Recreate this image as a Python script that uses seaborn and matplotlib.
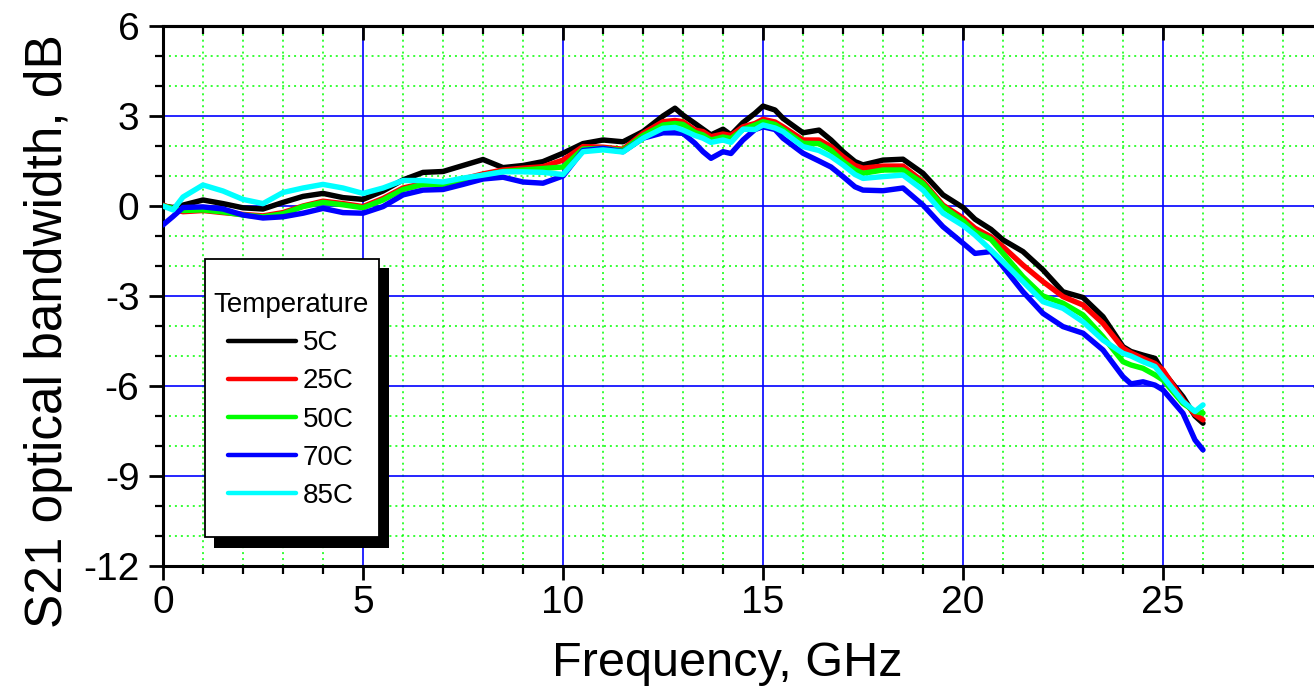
import numpy as np
import pandas as pd
import matplotlib
matplotlib.use("Agg")
import matplotlib.pyplot as plt
from matplotlib.ticker import MultipleLocator
from matplotlib.patches import Rectangle
import seaborn as sns

# ---------------- data ----------------
freq = [0, 0.25, 0.5, 1, 1.5, 2, 2.5, 3, 3.5, 4, 4.5, 5, 5.5, 6, 6.5, 7, 7.5, 8, 8.5, 9,
        9.5, 10, 10.5, 11, 11.5, 12, 12.5, 12.8, 13, 13.3, 13.5, 13.7, 14, 14.2, 14.5,
        14.8, 15, 15.3, 15.5, 16, 16.4, 16.7, 17, 17.3, 17.5, 18, 18.5, 19, 19.5, 20,
        20.3, 20.7, 21, 21.5, 22, 22.5, 23, 23.5, 24, 24.2, 24.5, 24.8, 25, 25.5, 25.8, 26]

s21_5C = [0.0, -0.05, 0.03, 0.2, 0.08, -0.06, -0.1, 0.12, 0.32, 0.42, 0.28, 0.22, 0.5, 0.87,
          1.12, 1.15, 1.35, 1.55, 1.28, 1.35, 1.48, 1.76, 2.08, 2.2, 2.14, 2.48, 3.0, 3.26,
          3.03, 2.75, 2.56, 2.37, 2.56, 2.37, 2.78, 3.09, 3.33, 3.2, 2.92, 2.44, 2.53, 2.2,
          1.81, 1.48, 1.37, 1.53, 1.56, 1.09, 0.37, -0.05, -0.44, -0.78, -1.13, -1.52, -2.13,
          -2.86, -3.05, -3.69, -4.69, -4.85, -4.97, -5.08, -5.52, -6.36, -7.0, -7.24]

s21_25C = [0.03, -0.1, -0.19, -0.15, -0.22, -0.28, -0.33, -0.22, 0.0, 0.16, 0.08, -0.02, 0.25,
           0.6, 0.75, 0.75, 0.9, 1.07, 1.2, 1.26, 1.31, 1.53, 1.98, 1.96, 1.89, 2.42, 2.81,
           2.85, 2.81, 2.53, 2.48, 2.31, 2.4, 2.35, 2.64, 2.75, 2.89, 2.8, 2.64, 2.2, 2.2,
           1.98, 1.64, 1.35, 1.26, 1.33, 1.33, 0.81, 0.03, -0.4, -0.74, -1.03, -1.36, -1.97,
           -2.52, -3.02, -3.3, -3.91, -4.74, -4.9, -5.08, -5.25, -5.47, -6.47, -6.95, -7.13]

s21_50C = [0.0, -0.08, -0.15, -0.13, -0.2, -0.3, -0.36, -0.26, -0.02, 0.12, 0.04, -0.06, 0.2,
           0.55, 0.72, 0.72, 0.88, 1.02, 1.15, 1.2, 1.25, 1.3, 1.9, 1.92, 1.85, 2.35, 2.7,
           2.75, 2.72, 2.45, 2.37, 2.2, 2.3, 2.25, 2.55, 2.7, 2.81, 2.72, 2.55, 2.09, 2.08,
           1.85, 1.48, 1.2, 1.09, 1.2, 1.2, 0.75, -0.02, -0.5, -0.86, -1.11, -1.58, -2.36,
           -3.0, -3.24, -3.63, -4.36, -5.19, -5.3, -5.41, -5.63, -5.8, -6.58, -6.85, -6.9]

s21_70C = [-0.63, -0.35, -0.05, -0.03, -0.1, -0.3, -0.4, -0.36, -0.24, -0.08, -0.22, -0.24,
           -0.02, 0.37, 0.53, 0.55, 0.72, 0.9, 0.96, 0.8, 0.76, 1.0, 1.85, 1.92, 1.81, 2.26,
           2.44, 2.44, 2.42, 2.09, 1.81, 1.59, 1.81, 1.75, 2.2, 2.55, 2.64, 2.55, 2.26, 1.76,
           1.5, 1.3, 0.98, 0.64, 0.53, 0.51, 0.6, 0.03, -0.69, -1.24, -1.58, -1.52, -2.02,
           -2.86, -3.58, -4.02, -4.24, -4.8, -5.69, -5.93, -5.86, -5.97, -6.13, -6.91, -7.8,
           -8.13]

s21_85C = [0.0, -0.13, 0.3, 0.7, 0.5, 0.22, 0.08, 0.45, 0.6, 0.72, 0.6, 0.42, 0.6, 0.85,
           0.85, 0.8, 0.93, 1.03, 1.14, 1.14, 1.12, 1.05, 1.81, 1.87, 1.8, 2.26, 2.59, 2.62,
           2.53, 2.35, 2.26, 2.12, 2.2, 2.12, 2.56, 2.55, 2.7, 2.6, 2.48, 1.98, 1.85, 1.65,
           1.37, 1.05, 0.92, 0.98, 1.03, 0.53, -0.24, -0.65, -0.97, -1.47, -1.86, -2.52,
           -3.19, -3.41, -3.86, -4.47, -4.91, -5.0, -5.19, -5.35, -5.69, -6.52, -6.85, -6.63]

temperatures = ["5C", "25C", "50C", "70C", "85C"]
line_colors = ["#000000", "#ff0000", "#00ff00", "#0000ff", "#00ffff"]
x_label = "Frequency, GHz"
y_label = "S21 optical bandwidth, dB"
legend_title = "Temperature"

series = [s21_5C, s21_25C, s21_50C, s21_70C, s21_85C]
df = pd.concat(
    [pd.DataFrame({"freq": freq, "s21": vals, "Temperature": t})
     for t, vals in zip(temperatures, series)],
    ignore_index=True,
)

# ---------------- style ----------------
sns.set_style("white")
plt.rcParams["font.family"] = ["Liberation Sans", "DejaVu Sans"]
plt.rcParams["axes.unicode_minus"] = False
plt.rcParams["text.color"] = "black"
plt.rcParams["axes.labelcolor"] = "black"
plt.rcParams["xtick.color"] = "black"
plt.rcParams["ytick.color"] = "black"

W, H = 1314, 697
fig = plt.figure(figsize=(W / 100, H / 100), dpi=100)
ax_left, ax_right, ax_top, ax_bottom = 163, 163 + 29.1 * 40, 26, 566
ax = fig.add_axes([ax_left / W, (H - ax_bottom) / H,
                   (ax_right - ax_left) / W, (ax_bottom - ax_top) / H])

sns.lineplot(data=df, x="freq", y="s21", hue="Temperature", hue_order=temperatures,
             palette=line_colors, linewidth=3.9, estimator=None, sort=False,
             legend=False, ax=ax, zorder=3)
for ln in ax.lines:
    ln.set_solid_joinstyle("round")
    ln.set_solid_capstyle("round")

ax.set_xlim(0, 29.1)
ax.set_ylim(-12, 6)
ax.xaxis.set_major_locator(MultipleLocator(5))
ax.xaxis.set_minor_locator(MultipleLocator(1))
ax.yaxis.set_major_locator(MultipleLocator(3))
ax.yaxis.set_minor_locator(MultipleLocator(1))

# grids
ax.grid(which="minor", color="#00ff00", linestyle=(0, (1.3, 2.6)), linewidth=1.1, zorder=0)
ax.grid(which="major", color="#0000ff", linestyle="-", linewidth=1.2, zorder=1)
ax.set_axisbelow(True)

for side in ["left", "bottom", "top", "right"]:
    ax.spines[side].set_visible(True)
    ax.spines[side].set_color("black")
    ax.spines[side].set_linewidth(2.2)

ax.tick_params(axis="both", which="both", bottom=True, left=True, top=False, right=False)
ax.tick_params(axis="both", which="major", direction="out", length=10, width=2.0,
               labelsize=28, color="black", labelcolor="black")
ax.tick_params(axis="both", which="minor", direction="out", length=5.5, width=1.6,
               color="black")
ax.tick_params(axis="x", which="major", pad=4)
ax.tick_params(axis="y", which="major", pad=7)

# inward ticks on top and right
secx = ax.secondary_xaxis("top")
secx.xaxis.set_major_locator(MultipleLocator(5))
secx.xaxis.set_minor_locator(MultipleLocator(1))
secx.tick_params(which="both", top=True, color="black")
secx.tick_params(which="major", direction="in", length=10, width=2.0, labeltop=False)
secx.tick_params(which="minor", direction="in", length=5.5, width=1.6)
secx.spines["top"].set_linewidth(2.2)
secx.spines["top"].set_color("black")
secx.set_zorder(4)
secy = ax.secondary_yaxis("right")
secy.yaxis.set_major_locator(MultipleLocator(3))
secy.yaxis.set_minor_locator(MultipleLocator(1))
secy.tick_params(which="both", right=True, color="black")
secy.tick_params(which="major", direction="in", length=10, width=2.0, labelright=False)
secy.tick_params(which="minor", direction="in", length=5.5, width=1.6)

ax.set_xlabel(x_label, fontsize=35, color="black")
ax.set_ylabel(y_label, fontsize=37, color="black")
axw, axh = ax_right - ax_left, ax_bottom - ax_top
ax.xaxis.set_label_coords((727.5 - ax_left) / axw, (ax_bottom - 641) / axh)
ax.yaxis.set_label_coords((73 - ax_left) / axw, (ax_bottom - 331) / axh)

# legend box with hard shadow
shadow = Rectangle(((214 - ax_left) / axw, (ax_bottom - 548) / axh), 175 / axw, 280 / axh,
                   transform=ax.transAxes, facecolor="black", edgecolor="black",
                   linewidth=0, zorder=5, clip_on=False)
box = Rectangle(((205 - ax_left) / axw, (ax_bottom - 537) / axh), 174 / axw, 278 / axh,
                transform=ax.transAxes, facecolor="white", edgecolor="black",
                linewidth=1.3, zorder=5.1, clip_on=False)
ax.add_patch(shadow)
ax.add_patch(box)

handles = ax.lines[:len(temperatures)]
leg = ax.legend(handles, temperatures, title=legend_title, loc="upper left",
                bbox_to_anchor=((213 - ax_left) / axw, (ax_bottom - 292) / axh),
                frameon=False, fontsize=20, title_fontsize=20, borderpad=0,
                borderaxespad=0, handlelength=2.45, handletextpad=0.25,
                labelspacing=0.44)
leg.set_zorder(6)
for txt in leg.get_texts():
    txt.set_color("black")
leg.get_title().set_color("black")
for lh in leg.get_lines():
    lh.set_linewidth(3.2)
    lh.set_solid_capstyle("round")

fig.savefig("out.png", dpi=100)
